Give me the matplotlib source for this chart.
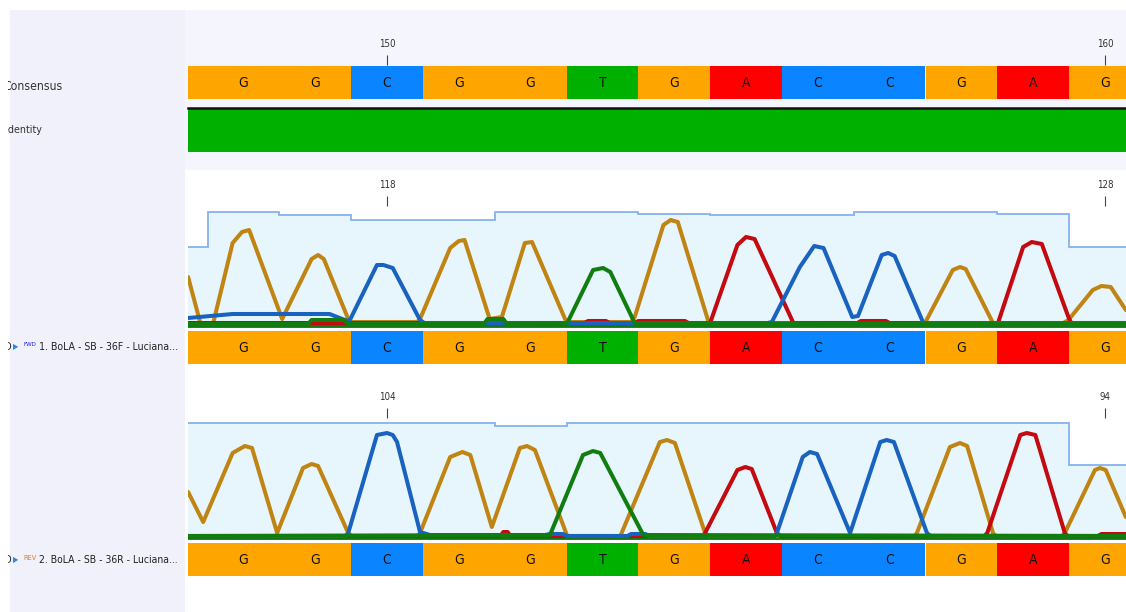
import numpy as np
import matplotlib.pyplot as plt
from matplotlib.patches import Rectangle

plt.rcParams['font.family'] = ['DejaVu Sans']
plt.rcParams['font.stretch'] = 'condensed'

W, H = 1126, 612

# bases shown, index -1 .. 12 (first and last only partly visible)
base_pos = list(range(-1, 13))
bases = ['G', 'G', 'G', 'C', 'G', 'G', 'T', 'G', 'A', 'C', 'C', 'G', 'A', 'G']
identity = [100] * 14

cons_ticks = [2, 12]
cons_labels = ['150', '160']
fwd_labels = ['118', '128']
rev_labels = ['104', '94']

fwd_quality = [78, 113, 110, 105, 105, 113, 113, 111, 110, 110, 113, 113, 111, 78]
rev_quality = [114, 114, 114, 114, 114, 111, 114, 114, 114, 114, 114, 114, 114, 72]

# forward read traces (position in bases, signal)
fwd_G_x = [-0.77, -0.60, -0.42, -0.15, -0.02, 0.08, 0.54, 0.95, 1.04, 1.12, 1.46, 1.50, 2.42, 2.46, 2.88, 3.00, 3.08,
           3.43, 3.60, 3.92, 4.02, 4.48, 4.52, 5.40, 5.45, 5.85, 5.95, 6.05, 6.47, 6.52, 9.45, 9.50, 9.88, 9.98, 10.06,
           10.44, 10.48, 11.42, 11.49, 11.83, 11.95, 12.08, 12.29]
fwd_G_y = [48, 2, 2, 82, 93, 95, 6, 66, 70, 66, 6, 3, 3, 6, 77, 84, 85,
           6, 8, 82, 83, 6, 3, 3, 8, 100, 105, 103, 5, 2, 2, 3, 55, 58, 56,
           2, 2, 2, 5, 35, 39, 38, 15]
fwd_C_x = [-0.77, -0.15, 1.20, 1.45, 1.49, 1.86, 1.95, 2.08, 2.46, 2.52, 7.30, 7.36, 7.75, 7.95, 8.08, 8.48, 8.56,
           8.89, 8.98, 9.07, 9.47, 9.52, 12.29]
fwd_C_y = [7, 11, 11, 4, 6, 60, 60, 57, 5, 2, 2, 3, 58, 79, 77, 8, 9,
           70, 72, 69, 2, 2, 2]
fwd_A_x = [-0.77, 4.75, 4.80, 5.05, 5.10, 5.45, 5.50, 6.15, 6.20, 6.50, 6.88, 7.00, 7.12, 7.66, 7.72, 8.55, 8.60,
           8.95, 9.00, 10.51, 10.86, 10.98, 11.12, 11.49, 11.53, 12.29]
fwd_A_y = [2, 2, 4, 4, 2, 2, 4, 4, 2, 2, 80, 88, 86, 2, 2, 2, 4,
           4, 2, 2, 78, 83, 81, 8, 2, 2]
fwd_T_x = [-0.77, 0.90, 0.95, 1.40, 1.45, 3.35, 3.40, 3.62, 3.67, 4.51, 4.87, 5.01, 5.11, 5.45, 12.29]
fwd_T_y = [1, 1, 5, 5, 1, 1, 6, 6, 1, 2, 55, 57, 53, 2, 1]

# reverse read traces
rev_G_x = [-0.77, -0.56, -0.15, 0.02, 0.12, 0.47, 0.83, 0.95, 1.04, 1.46, 1.51, 2.42, 2.46, 2.88, 3.05, 3.16, 3.46,
           3.85, 3.95, 4.06, 4.51, 5.25, 5.80, 5.90, 6.01, 6.43, 6.48, 9.35, 9.38, 9.84, 9.98, 10.08, 10.44, 10.48,
           11.40, 11.44, 11.86, 11.93, 12.01, 12.29]
rev_G_y = [45, 15, 84, 91, 89, 4, 69, 73, 71, 4, 1, 1, 4, 80, 85, 82, 10,
           89, 91, 87, 1, 1, 95, 97, 94, 4, 1, 1, 4, 90, 94, 91, 4, 1,
           1, 4, 67, 69, 67, 20]
rev_C_x = [-0.77, 1.42, 1.46, 1.86, 2.00, 2.08, 2.14, 2.46, 2.60, 4.20, 4.27, 4.45, 4.51, 5.35, 5.40, 5.60, 5.65,
           7.40, 7.43, 7.79, 7.89, 7.99, 8.45, 8.87, 8.96, 9.06, 9.52, 9.57, 12.29]
rev_C_y = [1, 1, 4, 102, 104, 102, 95, 5, 2, 2, 3, 3, 1, 1, 3, 3, 1,
           1, 4, 80, 85, 83, 4, 95, 97, 95, 4, 1, 1]
rev_A_x = [-0.77, 3.58, 3.62, 3.68, 3.72, 6.40, 6.43, 6.88, 6.99, 7.08, 7.43, 7.48, 10.32, 10.36, 10.82, 10.91,
           11.03, 11.44, 11.48, 11.90, 11.95, 12.29]
rev_A_y = [1, 1, 5, 5, 1, 1, 4, 67, 70, 68, 4, 1, 1, 4, 102, 104,
           102, 4, 1, 1, 3, 3]
rev_T_x = [-0.77, 4.27, 4.73, 4.87, 4.97, 5.57, 12.29]
rev_T_y = [1, 2, 82, 86, 84, 2, 1]

bar_colors = {'G': '#ffa500', 'C': '#0a84ff', 'T': '#00b000', 'A': '#ff0000'}
trace_colors = {'G': '#c08412', 'C': '#1a62c0', 'T': '#117d11', 'A': '#c20a10'}

# layout: one base = 71.8 px, base 0 centred at x = 243.4 px, plot area x 188..1126
BW, B0 = 71.8, 243.4
XMIN, XMAX = (188 - B0) / BW, (W - B0) / BW
edges = np.array(base_pos + [base_pos[-1] + 1]) - 0.5


def px_rect(x0, y0, x1, y1):
    return [x0 / W, 1 - y1 / H, (x1 - x0) / W, (y1 - y0) / H]


def clean(ax):
    ax.set_xticks([])
    ax.set_yticks([])
    for s in ax.spines.values():
        s.set_visible(False)


fig = plt.figure(figsize=(W / 100, H / 100), dpi=100)
fig.patch.set_facecolor('white')
renderer = fig.canvas.get_renderer()


def fit(t, width_px):
    # shrink/grow a text so that it spans about width_px pixels
    w = t.get_window_extent(renderer=renderer).width
    t.set_fontsize(t.get_fontsize() * width_px / w)
    return t


bg = fig.add_axes([0, 0, 1, 1])
bg.set_xlim(0, W)
bg.set_ylim(H, 0)
bg.axis('off')
bg.add_patch(Rectangle((10, 10), 175, H - 10, color='#f1f1fb', lw=0))
bg.add_patch(Rectangle((185, 10), W - 185, 160, color='#f5f5fd', lw=0))


def base_bar(y0, y1):
    ax = fig.add_axes(px_rect(188, y0, W, y1))
    clean(ax)
    ax.patch.set_visible(False)
    cols = [bar_colors[b] for b in bases]
    ax.bar(base_pos, [1] * len(bases), width=1.0, bottom=0, color=cols, lw=0, antialiased=False)
    for p, b in zip(base_pos, bases):
        if XMIN < p < XMAX:
            ax.text(p, 0.48, b, ha='center', va='center', fontsize=10, color='#111111')
    ax.set_xlim(XMIN, XMAX)
    ax.set_ylim(0, 1)
    return ax


def ruler(y, labels):
    r = fig.add_axes(px_rect(188, y - 1, W, y))
    clean(r)
    r.patch.set_visible(False)
    r.set_xlim(XMIN, XMAX)
    r.xaxis.set_ticks_position('top')
    r.set_xticks(cons_ticks, labels)
    r.tick_params(axis='x', direction='out', length=7.5, width=0.8, color='#444444',
                  pad=4, labelsize=7, labelcolor='#333333')
    return r


def trace_panel(y0, y1, ylim, quality, traces):
    ax = fig.add_axes(px_rect(188, y0, W, y1))
    clean(ax)
    ax.patch.set_visible(False)
    ax.stairs(quality, edges, baseline=0, fill=True, color='#e7f6fc', lw=0)
    ax.stairs(quality, edges, baseline=None, color='#86b2f0', lw=1.3)
    ax.axhline(0, color='#127a12', lw=4.2, zorder=1)
    for base, xs, ys in traces:
        ax.plot(xs, ys, color=trace_colors[base], lw=2.9,
                solid_joinstyle='round', solid_capstyle='round', zorder=3)
    ax.set_xlim(XMIN, XMAX)
    ax.set_ylim(*ylim)
    return ax


# consensus + identity
base_bar(66, 99)
ruler(66, cons_labels)
ida = fig.add_axes(px_rect(188, 108, W, 152))
clean(ida)
ida.patch.set_visible(False)
ida.stairs(identity, edges, baseline=0, fill=True, color='#00b000', lw=0)
ida.spines['top'].set_visible(True)
ida.spines['top'].set_color('#111111')
ida.spines['top'].set_linewidth(1.8)
ida.set_xlim(XMIN, XMAX)
ida.set_ylim(0, 100)

# forward read
trace_panel(170, 330, (-5, 155), fwd_quality,
            [('G', fwd_G_x, fwd_G_y), ('A', fwd_A_x, fwd_A_y),
             ('C', fwd_C_x, fwd_C_y), ('T', fwd_T_x, fwd_T_y)])
ruler(207, fwd_labels)
base_bar(331, 364)

# reverse read
trace_panel(385, 542, (-5, 152), rev_quality,
            [('G', rev_G_x, rev_G_y), ('A', rev_A_x, rev_A_y),
             ('C', rev_C_x, rev_C_y), ('T', rev_T_x, rev_T_y)])
ruler(419, rev_labels)
base_bar(543, 576)

# row labels
lab = fig.add_axes(px_rect(8, 0, 186, H))
lab.set_xlim(8, 186)
lab.set_ylim(H, 0)
lab.axis('off')
fit(lab.text(3, 86, 'Consensus', fontsize=10, color='#333333', va='center', clip_on=True), 59)
fit(lab.text(5, 130, 'Identity', fontsize=10, color='#333333', va='center', clip_on=True), 37)
for y, tag, tag_col, name in [(347, 'FWD', '#1a1ae0', '1. BoLA - SB - 36F - Luciana...'),
                              (560, 'REV', '#e07a1e', '2. BoLA - SB - 36R - Luciana...')]:
    lab.text(4, y, 'D', fontsize=8, color='#333333', va='center', clip_on=True)
    lab.text(13, y, '\u25b6', fontsize=5.5, color='#2a8ae0', va='center')
    fit(lab.text(23, y - 2, tag, fontsize=6.5, color=tag_col, va='center'), 13)
    fit(lab.text(39, y, name, fontsize=9.5, color='#222222', va='center'), 140)

fig.savefig('out.png', dpi=100)
